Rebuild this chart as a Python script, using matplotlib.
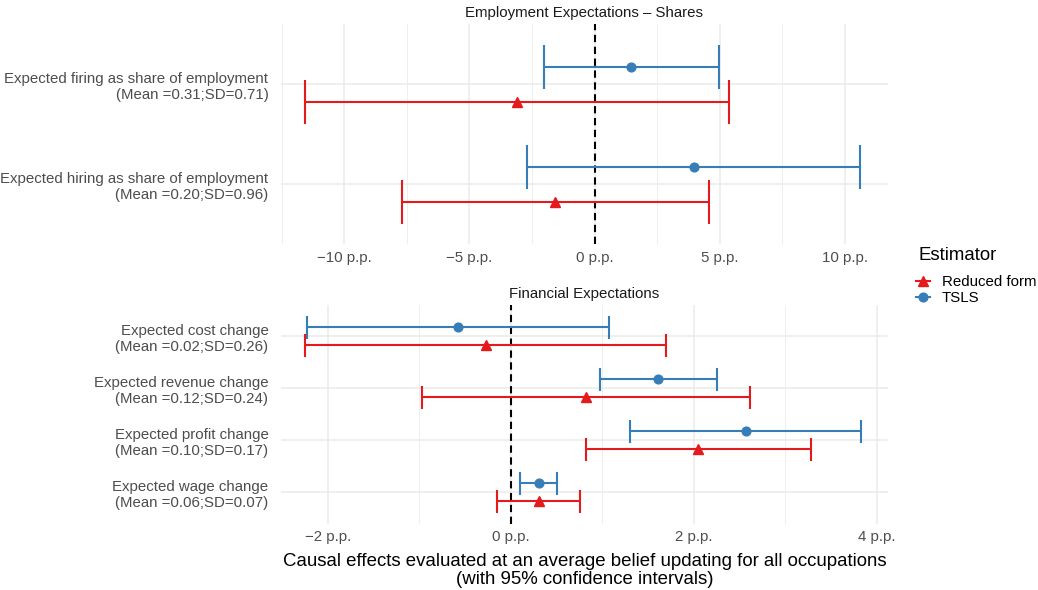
import numpy as np
import matplotlib.pyplot as plt
from matplotlib.lines import Line2D
from matplotlib.ticker import FixedLocator

plt.rcParams['font.family'] = ['Liberation Sans', 'DejaVu Sans']

RED = "#E41A1C"
BLUE = "#377EB8"
GRID = "#EBEBEB"
TXT = "#4D4D4D"
SMALL = 10.8
BIG = 13.4

# Employment panel (top), listed top to bottom
emp_labels = ["Expected firing as share of employment\n(Mean =0.31;SD=0.71)",
              "Expected hiring as share of employment\n(Mean =0.20;SD=0.96)"]
emp_tsls = [1.47, 3.96]
emp_tsls_lo = [-2.02, -2.70]
emp_tsls_hi = [4.96, 10.61]
emp_rf = [-3.11, -1.56]
emp_rf_lo = [-11.56, -7.69]
emp_rf_hi = [5.36, 4.56]
emp_ticks = [-10, -5, 0, 5, 10]
emp_minor = [-12.5, -7.5, -2.5, 2.5, 7.5]

# Financial panel (bottom), listed top to bottom
fin_labels = ["Expected cost change\n(Mean =0.02;SD=0.26)",
              "Expected revenue change\n(Mean =0.12;SD=0.24)",
              "Expected profit change\n(Mean =0.10;SD=0.17)",
              "Expected wage change\n(Mean =0.06;SD=0.07)"]
fin_tsls = [-0.58, 1.61, 2.57, 0.305]
fin_tsls_lo = [-2.23, 0.975, 1.30, 0.10]
fin_tsls_hi = [1.07, 2.25, 3.82, 0.51]
fin_rf = [-0.27, 0.82, 2.05, 0.31]
fin_rf_lo = [-2.25, -0.97, 0.82, -0.15]
fin_rf_hi = [1.70, 2.61, 3.28, 0.76]
fin_ticks = [-2, 0, 2, 4]
fin_minor = [-1, 1, 3]


def fmt(v):
    s = "%g p.p." % abs(v)
    return ("\u2212" + s) if v < 0 else s


def draw_panel(ax, labels, tsls, tlo, thi, rf, rlo, rhi, ticks, minor, title):
    n = len(labels)
    ypos = np.arange(n)[::-1]
    dodge = 0.175
    half = 0.22
    lw = 1.5
    # dashed zero line
    ax.axvline(0, color="black", lw=1.5, ls=(0, (3.5, 2.2)), zorder=2)
    for est, lo, hi, col, mk, sh in [(tsls, tlo, thi, BLUE, "o", dodge),
                                      (rf, rlo, rhi, RED, "^", -dodge)]:
        y = ypos + sh
        ax.hlines(y, lo, hi, color=col, lw=lw, zorder=3)
        ax.vlines(lo, y - half, y + half, color=col, lw=lw, zorder=3)
        ax.vlines(hi, y - half, y + half, color=col, lw=lw, zorder=3)
        ax.plot(est, y, mk, color=col, ms=7.5 if mk == "^" else 6.3,
                ls="none", zorder=4)
    ax.set_ylim(-0.6, n - 0.4)
    ax.set_yticks(ypos)
    ax.set_yticklabels(labels, fontsize=SMALL, color=TXT, ha="right",
                       linespacing=1.22)
    ax.set_xticks(ticks)
    ax.set_xticklabels([fmt(t) for t in ticks], fontsize=SMALL, color=TXT)
    ax.xaxis.set_minor_locator(FixedLocator(minor))
    ax.grid(True, which="major", color=GRID, lw=1.1, zorder=0)
    ax.grid(True, which="minor", axis="x", color=GRID, lw=0.6, zorder=0)
    ax.tick_params(which="both", length=0)
    ax.tick_params(axis="y", pad=9)
    ax.tick_params(axis="x", pad=5)
    for s in ax.spines.values():
        s.set_visible(False)
    ax.set_axisbelow(True)
    ax.set_title(title, fontsize=SMALL, color="#1A1A1A", pad=5)


fig = plt.figure(figsize=(10.38, 5.9), dpi=100)
ax1 = fig.add_axes([0.2707, 0.5864, 0.5848, 0.3729])
ax2 = fig.add_axes([0.2707, 0.1127, 0.5848, 0.3703])

draw_panel(ax1, emp_labels, emp_tsls, emp_tsls_lo, emp_tsls_hi,
           emp_rf, emp_rf_lo, emp_rf_hi, emp_ticks, emp_minor,
           "Employment Expectations \u2013 Shares")
ax1.set_xlim(-12.53, 11.73)

draw_panel(ax2, fin_labels, fin_tsls, fin_tsls_lo, fin_tsls_hi,
           fin_rf, fin_rf_lo, fin_rf_hi, fin_ticks, fin_minor,
           "Financial Expectations")
ax2.set_xlim(-2.51, 4.12)

ax2.set_xlabel("Causal effects evaluated at an average belief updating for all occupations\n"
               "(with 95% confidence intervals)", fontsize=BIG, color="black",
               labelpad=6, linespacing=1.12)

fig.text(918 / 1038, 1 - 256 / 590, "Estimator", fontsize=BIG, ha="left", va="center")
handles = [Line2D([], [], color=RED, marker="^", ms=7.5, lw=1.5),
           Line2D([], [], color=BLUE, marker="o", ms=6.3, lw=1.5)]
leg = fig.legend(handles, ["Reduced form", "TSLS"],
                 loc="center left", bbox_to_anchor=(916 / 1038, 1 - 290 / 590),
                 frameon=False, fontsize=SMALL, handlelength=0.9,
                 handletextpad=0.8, labelspacing=0.15, borderaxespad=0,
                 borderpad=0)

fig.savefig("out.png", dpi=100)
